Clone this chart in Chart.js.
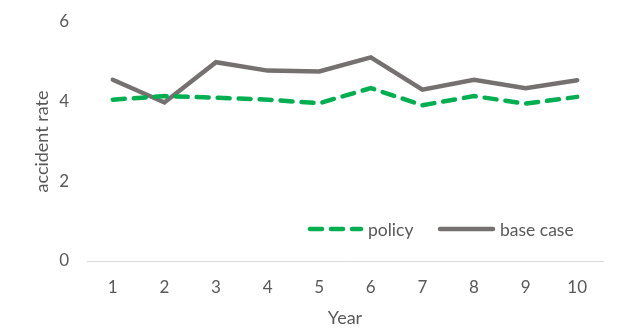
<!DOCTYPE html>
<html lang="en">
<head>
    <meta charset="UTF-8">
    <title>Accident rate by year</title>
    <script src="https://cdn.jsdelivr.net/npm/chart.js"></script>
    <style>
        body {
            margin: 0;
            padding: 0;
            background: white;
        }

        .chart-container {
            width: 630px;
            height: 329px;
        }
    </style>
</head>
<body>

    <div class="chart-container">
        <canvas id="rateChart"></canvas>
    </div>

    <script>
        const years = ['1', '2', '3', '4', '5', '6', '7', '8', '9', '10'];
        const policy = [4.05, 4.14, 4.1, 4.05, 3.96, 4.34, 3.91, 4.14, 3.95, 4.12];
        const baseCase = [4.55, 3.98, 4.99, 4.78, 4.76, 5.11, 4.3, 4.55, 4.34, 4.54];
        const yTicks = [0, 2, 4, 6];

        const textColor = '#595959';
        const fontFamily = 'Lato, "Open Sans", sans-serif';

        // legend drawn inside the plot, bottom right
        const insideLegend = {
            id: 'insideLegend',
            afterDatasetsDraw(chart) {
                const ctx = chart.ctx;
                const y = 229;
                const items = [
                    { ds: chart.data.datasets[0], x: 308, w: 55 },
                    { ds: chart.data.datasets[1], x: 438, w: 57 }
                ];
                ctx.save();
                ctx.font = '17.5px ' + fontFamily;
                ctx.textBaseline = 'middle';
                items.forEach(item => {
                    ctx.beginPath();
                    ctx.strokeStyle = item.ds.borderColor;
                    ctx.lineWidth = item.ds.borderWidth;
                    ctx.lineCap = 'round';
                    ctx.setLineDash(item.ds.borderDash || []);
                    ctx.moveTo(item.x + 2, y);
                    ctx.lineTo(item.x + item.w - 2, y);
                    ctx.stroke();
                    ctx.setLineDash([]);
                    ctx.fillStyle = textColor;
                    ctx.fillText(item.ds.label, item.x + item.w + 5, y + 1);
                });
                ctx.restore();
            }
        };

        const ctx1 = document.getElementById('rateChart').getContext('2d');

        new Chart(ctx1, {
            type: 'line',
            data: {
                labels: years,
                datasets: [
                    {
                        label: 'policy',
                        data: policy,
                        borderColor: '#00B050',
                        borderWidth: 4.5,
                        borderDash: [12, 9],
                        borderCapStyle: 'round',
                        pointRadius: 0,
                        tension: 0
                    },
                    {
                        label: 'base case',
                        data: baseCase,
                        borderColor: '#767171',
                        borderWidth: 4.5,
                        borderCapStyle: 'round',
                        pointRadius: 0,
                        tension: 0
                    }
                ]
            },
            options: {
                responsive: true,
                maintainAspectRatio: false,
                animation: false,
                layout: { padding: { top: 22, right: 27, left: 0, bottom: 0 } },
                scales: {
                    x: {
                        offset: true,
                        grid: { display: false },
                        border: { display: true, color: '#D9D9D9', width: 1 },
                        ticks: { color: textColor, font: { family: fontFamily, size: 17 }, padding: 8 },
                        title: { display: true, text: 'Year', color: textColor, font: { family: fontFamily, size: 18 }, padding: { top: 1, bottom: 0 } },
                        afterFit(scale) { scale.height = 68; }
                    },
                    y: {
                        min: 0,
                        max: 6,
                        grid: { display: false },
                        border: { display: false },
                        afterBuildTicks(scale) { scale.ticks = yTicks.map(v => ({ value: v })); },
                        ticks: { color: textColor, font: { family: fontFamily, size: 17 }, padding: 10 },
                        title: { display: true, text: 'accident rate', color: textColor, font: { family: fontFamily, size: 18 }, padding: { top: 31, bottom: 0 } },
                        afterFit(scale) { scale.width = 87; }
                    }
                },
                plugins: {
                    legend: { display: false },
                    tooltip: { enabled: false }
                }
            },
            plugins: [insideLegend]
        });
    </script>

</body>
</html>
